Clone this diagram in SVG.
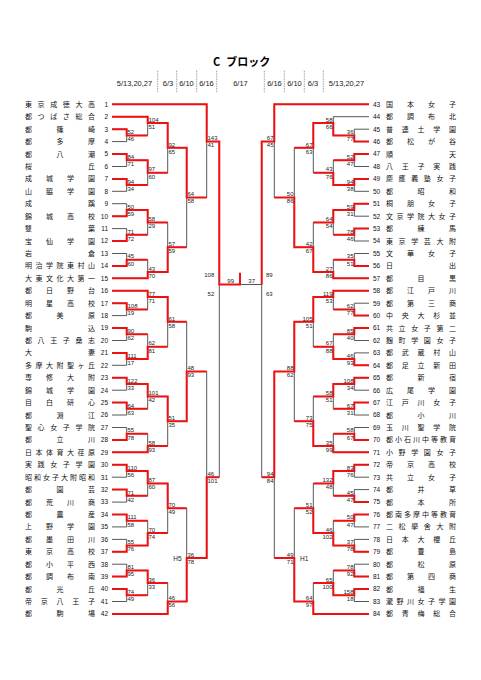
<svg xmlns="http://www.w3.org/2000/svg" xmlns:xlink="http://www.w3.org/1999/xlink" width="481" height="680" viewBox="0 0 481 680">
<style>
.nm{font-family:"Noto Sans CJK JP","Noto Sans CJK SC",sans-serif;font-size:7px;fill:#111}
.no{font-family:"Liberation Sans",Arial,sans-serif;font-size:6.5px;fill:#111}
.e{text-anchor:end}
.sc text{font-family:"Liberation Sans",Arial,sans-serif;font-size:6px;fill:#222}
.r text{text-anchor:end}
.dt{font-family:"Liberation Sans",Arial,sans-serif;font-size:7.5px;fill:#222;text-anchor:middle}
.bk{fill:none;stroke:#444;stroke-width:0.9}
.rd{fill:none;stroke:#ee1111;stroke-width:2}
.sep{stroke:#888;stroke-width:0.8;stroke-dasharray:1.5 1}
</style>
<rect width="481" height="680" fill="#fff"/>
<text x="213" y="65.5" style="font-family:'Noto Sans CJK JP',sans-serif;font-size:11px;font-weight:bold">C<tspan dx="6">ブロック</tspan></text>
<g id="header">
<text class="dt" x="134.5" y="86">5/13,20,27</text>
<text class="dt" x="168" y="86">6/3</text>
<text class="dt" x="186.5" y="86">6/10</text>
<text class="dt" x="206.5" y="86">6/16</text>
<text class="dt" x="240.5" y="86">6/17</text>
<text class="dt" x="274.5" y="86">6/16</text>
<text class="dt" x="294.5" y="86">6/10</text>
<text class="dt" x="313" y="86">6/3</text>
<text class="dt" x="346.5" y="86">5/13,20,27</text>
<path class="sep" d="M157.7 70.7V92.7M176.7 70.7V92.7M196.7 70.7V92.7M216.7 70.7V92.7M264.3 70.7V92.7M284.3 70.7V92.7M304.3 70.7V92.7M323.3 70.7V92.7"/>
</g>
<g id="connectors">
<path id="brL" class="bk" d="M112 104.3H206.7M112 116.7H147.7M112 129.2H126.7M112 141.6H126.7M112 154H126.7M112 166.5H126.7M112 178.9H126.7M112 191.3H126.7M112 203.7H126.7M112 216.2H126.7M112 228.6H126.7M112 241H126.7M112 253.5H126.7M112 265.9H126.7M112 278.3H147.7M112 290.8H147.7M112 303.2H126.7M112 315.6H126.7M112 328H126.7M112 340.5H126.7M112 352.9H126.7M112 365.3H126.7M112 377.8H126.7M112 390.2H126.7M112 402.6H126.7M112 415H126.7M112 427.5H126.7M112 439.9H126.7M112 452.3H147.7M112 464.8H126.7M112 477.2H126.7M112 489.6H126.7M112 502.1H126.7M112 514.5H126.7M112 526.9H126.7M112 539.4H126.7M112 551.8H126.7M112 564.2H126.7M112 576.6H126.7M112 589.1H126.7M112 601.5H126.7M112 613.9H167.7
M126.7 129.2V141.6M126.7 135.4H147.7M126.7 154V166.5M126.7 160.2H147.7M126.7 178.9V191.3M126.7 185.1H147.7M126.7 203.7V216.2M126.7 210H147.7M126.7 228.6V241M126.7 234.8H147.7M126.7 253.5V265.9M126.7 259.7H147.7M126.7 303.2V315.6M126.7 309.4H147.7M126.7 328V340.5M126.7 334.3H147.7M126.7 352.9V365.3M126.7 359.1H147.7M126.7 377.8V390.2M126.7 384H147.7M126.7 402.6V415M126.7 408.8H147.7M126.7 427.5V439.9M126.7 433.7H147.7M126.7 464.8V477.2M126.7 471H147.7M126.7 489.6V502.1M126.7 495.8H147.7M126.7 514.5V526.9M126.7 520.7H147.7M126.7 539.4V551.8M126.7 545.6H147.7M126.7 564.2V576.6M126.7 570.4H147.7M126.7 589.1V601.5M126.7 595.3H147.7
M147.7 116.7V135.4M147.7 122.9H167.7M147.7 160.2V185.1M147.7 172.7H167.7M147.7 210V234.8M147.7 222.4H167.7M147.7 259.7V278.3M147.7 272.1H167.7M147.7 290.8V309.4M147.7 297H167.7M147.7 334.3V359.1M147.7 346.7H167.7M147.7 384V408.8M147.7 396.4H167.7M147.7 433.7V452.3M147.7 446.1H167.7M147.7 471V495.8M147.7 483.4H167.7M147.7 520.7V545.6M147.7 533.1H167.7M147.7 570.4V595.3M147.7 582.9H167.7
M167.7 122.9V172.7M167.7 147.8H186.7M167.7 222.4V272.1M167.7 247.2H186.7M167.7 297V346.7M167.7 321.8H186.7M167.7 396.4V446.1M167.7 421.3H186.7M167.7 483.4V533.1M167.7 508.3H186.7M167.7 582.9V613.9M167.7 601.5H186.7
M186.7 147.8V247.2M186.7 197.5H206.7M186.7 321.8V421.3M186.7 371.5H206.7M186.7 508.3V601.5M186.7 558H206.7
M206.7 104.3V197.5M206.7 141.6H219.3M206.7 371.5V558M206.7 477.2H219.3M219.3 141.6V477.2M219.3 284.5H240.5"/>
<use xlink:href="#brL" href="#brL" transform="matrix(-1 0 0 1 481 0)"/>
<path class="rd" d="M112 104.3H206.7V141.6H219.3V284.5H240V272.7
M112 116.7H147.7V122.9H167.7V147.8H186.7V197.5H206.7
M112 129.2H126.7V135.4H147.7
M112 154H126.7V160.2H147.7V172.7H167.7
M112 178.9H126.7V185.1H147.7
M112 216.2H126.7V210H147.7V222.4H167.7
M112 241H126.7V234.8H147.7
M112 265.9H126.7V259.7H147.7
M112 278.3H147.7V272.1H167.7V247.2H186.7
M112 290.8H147.7V297H167.7V321.8H186.7
M112 303.2H126.7V309.4H147.7
M112 328H126.7V334.3H147.7
M112 352.9H126.7V359.1H147.7V346.7H167.7
M112 377.8H126.7V384H147.7V396.4H167.7V421.3H186.7V371.5H206.7
M112 402.6H126.7V408.8H147.7
M112 439.9H126.7V433.7H147.7
M112 452.3H147.7V446.1H167.7
M112 464.8H126.7V471H147.7V483.4H167.7V508.3H186.7
M112 489.6H126.7V495.8H147.7
M112 514.5H126.7V520.7H147.7
M112 551.8H126.7V545.6H147.7V533.1H167.7
M112 576.6H126.7V570.4H147.7V582.9H167.7
M112 589.1H126.7V595.3H147.7
M112 613.9H167.7V601.5H186.7V558H206.7V477.2H219.3"/>
<path class="rd" d="M369 104.3H274.3V141.6H261.7V284.5
M369 141.6H354.3V135.4H333.3V122.9H313.3V147.8H294.3
M369 154H354.3V160.2H333.3
M369 178.9H354.3V185.1H333.3V172.7H313.3
M369 203.7H354.3V210H333.3V222.4H313.3
M369 228.6H354.3V234.8H333.3
M369 265.9H354.3V259.7H333.3
M369 278.3H333.3V272.1H313.3V247.2H294.3V197.5H274.3
M369 290.8H333.3V297H313.3V321.8H294.3V371.5H274.3V477.2H261.7
M369 315.6H354.3V309.4H333.3
M369 328H354.3V334.3H333.3
M369 365.3H354.3V359.1H333.3V346.7H313.3
M369 377.8H354.3V384H333.3V396.4H313.3
M369 402.6H354.3V408.8H333.3
M369 439.9H354.3V433.7H333.3
M369 452.3H333.3V446.1H313.3V421.3H294.3
M369 464.8H354.3V471H333.3V483.4H313.3
M369 502.1H354.3V495.8H333.3
M369 514.5H354.3V520.7H333.3
M369 551.8H354.3V545.6H333.3V533.1H313.3V508.3H294.3
M369 576.6H354.3V570.4H333.3
M369 589.1H354.3V595.3H333.3V582.9H313.3
M369 613.9H313.3V601.5H294.3V558H274.3"/>
</g>
<g id="teams-left">
<g id="t1" transform="translate(0,104.3)"><text class="nm" x="25" y="2.5" textLength="70">東京成徳大高</text><text class="no e" x="108" y="2.3">1</text></g>
<g id="t2" transform="translate(0,116.7)"><text class="nm" x="25" y="2.5" textLength="70">都つばさ総合</text><text class="no e" x="108" y="2.3">2</text></g>
<g id="t3" transform="translate(0,129.2)"><text class="nm" x="25" y="2.5" textLength="70">都篠崎</text><text class="no e" x="108" y="2.3">3</text></g>
<g id="t4" transform="translate(0,141.6)"><text class="nm" x="25" y="2.5" textLength="70">都多摩</text><text class="no e" x="108" y="2.3">4</text></g>
<g id="t5" transform="translate(0,154)"><text class="nm" x="25" y="2.5" textLength="70">都八潮</text><text class="no e" x="108" y="2.3">5</text></g>
<g id="t6" transform="translate(0,166.5)"><text class="nm" x="25" y="2.5" textLength="70">桜丘</text><text class="no e" x="108" y="2.3">6</text></g>
<g id="t7" transform="translate(0,178.9)"><text class="nm" x="25" y="2.5" textLength="70">成城学園</text><text class="no e" x="108" y="2.3">7</text></g>
<g id="t8" transform="translate(0,191.3)"><text class="nm" x="25" y="2.5" textLength="70">山脇学園</text><text class="no e" x="108" y="2.3">8</text></g>
<g id="t9" transform="translate(0,203.7)"><text class="nm" x="25" y="2.5" textLength="70">成蹊</text><text class="no e" x="108" y="2.3">9</text></g>
<g id="t10" transform="translate(0,216.2)"><text class="nm" x="25" y="2.5" textLength="70">錦城高校</text><text class="no e" x="108" y="2.3">10</text></g>
<g id="t11" transform="translate(0,228.6)"><text class="nm" x="25" y="2.5" textLength="70">雙葉</text><text class="no e" x="108" y="2.3">11</text></g>
<g id="t12" transform="translate(0,241)"><text class="nm" x="25" y="2.5" textLength="70">宝仙学園</text><text class="no e" x="108" y="2.3">12</text></g>
<g id="t13" transform="translate(0,253.5)"><text class="nm" x="25" y="2.5" textLength="70">岩倉</text><text class="no e" x="108" y="2.3">13</text></g>
<g id="t14" transform="translate(0,265.9)"><text class="nm" x="25" y="2.5" textLength="70">明治学院東村山</text><text class="no e" x="108" y="2.3">14</text></g>
<g id="t15" transform="translate(0,278.3)"><text class="nm" x="25" y="2.5" textLength="70">大東文化大第一</text><text class="no e" x="108" y="2.3">15</text></g>
<g id="t16" transform="translate(0,290.8)"><text class="nm" x="25" y="2.5" textLength="70">都日野台</text><text class="no e" x="108" y="2.3">16</text></g>
<g id="t17" transform="translate(0,303.2)"><text class="nm" x="25" y="2.5" textLength="70">明星高校</text><text class="no e" x="108" y="2.3">17</text></g>
<g id="t18" transform="translate(0,315.6)"><text class="nm" x="25" y="2.5" textLength="70">都美原</text><text class="no e" x="108" y="2.3">18</text></g>
<g id="t19" transform="translate(0,328)"><text class="nm" x="25" y="2.5" textLength="70">駒込</text><text class="no e" x="108" y="2.3">19</text></g>
<g id="t20" transform="translate(0,340.5)"><text class="nm" x="25" y="2.5" textLength="70">都八王子桑志</text><text class="no e" x="108" y="2.3">20</text></g>
<g id="t21" transform="translate(0,352.9)"><text class="nm" x="25" y="2.5" textLength="70">大妻</text><text class="no e" x="108" y="2.3">21</text></g>
<g id="t22" transform="translate(0,365.3)"><text class="nm" x="25" y="2.5" textLength="70">多摩大附聖ヶ丘</text><text class="no e" x="108" y="2.3">22</text></g>
<g id="t23" transform="translate(0,377.8)"><text class="nm" x="25" y="2.5" textLength="70">専修大附</text><text class="no e" x="108" y="2.3">23</text></g>
<g id="t24" transform="translate(0,390.2)"><text class="nm" x="25" y="2.5" textLength="70">錦城学園</text><text class="no e" x="108" y="2.3">24</text></g>
<g id="t25" transform="translate(0,402.6)"><text class="nm" x="25" y="2.5" textLength="70">目白研心</text><text class="no e" x="108" y="2.3">25</text></g>
<g id="t26" transform="translate(0,415)"><text class="nm" x="25" y="2.5" textLength="70">都淵江</text><text class="no e" x="108" y="2.3">26</text></g>
<g id="t27" transform="translate(0,427.5)"><text class="nm" x="25" y="2.5" textLength="70">聖心女子学院</text><text class="no e" x="108" y="2.3">27</text></g>
<g id="t28" transform="translate(0,439.9)"><text class="nm" x="25" y="2.5" textLength="70">都立川</text><text class="no e" x="108" y="2.3">28</text></g>
<g id="t29" transform="translate(0,452.3)"><text class="nm" x="25" y="2.5" textLength="70">日本体育大荏原</text><text class="no e" x="108" y="2.3">29</text></g>
<g id="t30" transform="translate(0,464.8)"><text class="nm" x="25" y="2.5" textLength="70">実践女子学園</text><text class="no e" x="108" y="2.3">30</text></g>
<g id="t31" transform="translate(0,477.2)"><text class="nm" x="25" y="2.5" textLength="70">昭和女子大附昭和</text><text class="no e" x="108" y="2.3">31</text></g>
<g id="t32" transform="translate(0,489.6)"><text class="nm" x="25" y="2.5" textLength="70">都園芸</text><text class="no e" x="108" y="2.3">32</text></g>
<g id="t33" transform="translate(0,502.1)"><text class="nm" x="25" y="2.5" textLength="70">都荒川商</text><text class="no e" x="108" y="2.3">33</text></g>
<g id="t34" transform="translate(0,514.5)"><text class="nm" x="25" y="2.5" textLength="70">都農産</text><text class="no e" x="108" y="2.3">34</text></g>
<g id="t35" transform="translate(0,526.9)"><text class="nm" x="25" y="2.5" textLength="70">上野学園</text><text class="no e" x="108" y="2.3">35</text></g>
<g id="t36" transform="translate(0,539.4)"><text class="nm" x="25" y="2.5" textLength="70">都墨田川</text><text class="no e" x="108" y="2.3">36</text></g>
<g id="t37" transform="translate(0,551.8)"><text class="nm" x="25" y="2.5" textLength="70">東京高校</text><text class="no e" x="108" y="2.3">37</text></g>
<g id="t38" transform="translate(0,564.2)"><text class="nm" x="25" y="2.5" textLength="70">都小平西</text><text class="no e" x="108" y="2.3">38</text></g>
<g id="t39" transform="translate(0,576.6)"><text class="nm" x="25" y="2.5" textLength="70">都調布南</text><text class="no e" x="108" y="2.3">39</text></g>
<g id="t40" transform="translate(0,589.1)"><text class="nm" x="25" y="2.5" textLength="70">都光丘</text><text class="no e" x="108" y="2.3">40</text></g>
<g id="t41" transform="translate(0,601.5)"><text class="nm" x="25" y="2.5" textLength="70">帝京八王子</text><text class="no e" x="108" y="2.3">41</text></g>
<g id="t42" transform="translate(0,613.9)"><text class="nm" x="25" y="2.5" textLength="70">都駒場</text><text class="no e" x="108" y="2.3">42</text></g>
</g>
<g id="teams-right">
<g id="t43" transform="translate(0,104.3)"><text class="no" x="373" y="2.3">43</text><text class="nm" x="386" y="2.5" textLength="70">国本女子</text></g>
<g id="t44" transform="translate(0,116.7)"><text class="no" x="373" y="2.3">44</text><text class="nm" x="386" y="2.5" textLength="70">都調布北</text></g>
<g id="t45" transform="translate(0,129.2)"><text class="no" x="373" y="2.3">45</text><text class="nm" x="386" y="2.5" textLength="70">普連土学園</text></g>
<g id="t46" transform="translate(0,141.6)"><text class="no" x="373" y="2.3">46</text><text class="nm" x="386" y="2.5" textLength="70">都松が谷</text></g>
<g id="t47" transform="translate(0,154)"><text class="no" x="373" y="2.3">47</text><text class="nm" x="386" y="2.5" textLength="70">順天</text></g>
<g id="t48" transform="translate(0,166.5)"><text class="no" x="373" y="2.3">48</text><text class="nm" x="386" y="2.5" textLength="70">八王子実践</text></g>
<g id="t49" transform="translate(0,178.9)"><text class="no" x="373" y="2.3">49</text><text class="nm" x="386" y="2.5" textLength="70">慶應義塾女子</text></g>
<g id="t50" transform="translate(0,191.3)"><text class="no" x="373" y="2.3">50</text><text class="nm" x="386" y="2.5" textLength="70">都昭和</text></g>
<g id="t51" transform="translate(0,203.7)"><text class="no" x="373" y="2.3">51</text><text class="nm" x="386" y="2.5" textLength="70">桐朋女子</text></g>
<g id="t52" transform="translate(0,216.2)"><text class="no" x="373" y="2.3">52</text><text class="nm" x="386" y="2.5" textLength="70">文京学院大女子</text></g>
<g id="t53" transform="translate(0,228.6)"><text class="no" x="373" y="2.3">53</text><text class="nm" x="386" y="2.5" textLength="70">都練馬</text></g>
<g id="t54" transform="translate(0,241)"><text class="no" x="373" y="2.3">54</text><text class="nm" x="386" y="2.5" textLength="70">東京学芸大附</text></g>
<g id="t55" transform="translate(0,253.5)"><text class="no" x="373" y="2.3">55</text><text class="nm" x="386" y="2.5" textLength="70">文華女子</text></g>
<g id="t56" transform="translate(0,265.9)"><text class="no" x="373" y="2.3">56</text><text class="nm" x="386" y="2.5" textLength="70">日出</text></g>
<g id="t57" transform="translate(0,278.3)"><text class="no" x="373" y="2.3">57</text><text class="nm" x="386" y="2.5" textLength="70">都目黒</text></g>
<g id="t58" transform="translate(0,290.8)"><text class="no" x="373" y="2.3">58</text><text class="nm" x="386" y="2.5" textLength="70">都江戸川</text></g>
<g id="t59" transform="translate(0,303.2)"><text class="no" x="373" y="2.3">59</text><text class="nm" x="386" y="2.5" textLength="70">都第三商</text></g>
<g id="t60" transform="translate(0,315.6)"><text class="no" x="373" y="2.3">60</text><text class="nm" x="386" y="2.5" textLength="70">中央大杉並</text></g>
<g id="t61" transform="translate(0,328)"><text class="no" x="373" y="2.3">61</text><text class="nm" x="386" y="2.5" textLength="70">共立女子第二</text></g>
<g id="t62" transform="translate(0,340.5)"><text class="no" x="373" y="2.3">62</text><text class="nm" x="386" y="2.5" textLength="70">麹町学園女子</text></g>
<g id="t63" transform="translate(0,352.9)"><text class="no" x="373" y="2.3">63</text><text class="nm" x="386" y="2.5" textLength="70">都武蔵村山</text></g>
<g id="t64" transform="translate(0,365.3)"><text class="no" x="373" y="2.3">64</text><text class="nm" x="386" y="2.5" textLength="70">都足立新田</text></g>
<g id="t65" transform="translate(0,377.8)"><text class="no" x="373" y="2.3">65</text><text class="nm" x="386" y="2.5" textLength="70">都新宿</text></g>
<g id="t66" transform="translate(0,390.2)"><text class="no" x="373" y="2.3">66</text><text class="nm" x="386" y="2.5" textLength="70">広尾学園</text></g>
<g id="t67" transform="translate(0,402.6)"><text class="no" x="373" y="2.3">67</text><text class="nm" x="386" y="2.5" textLength="70">江戸川女子</text></g>
<g id="t68" transform="translate(0,415)"><text class="no" x="373" y="2.3">68</text><text class="nm" x="386" y="2.5" textLength="70">都小川</text></g>
<g id="t69" transform="translate(0,427.5)"><text class="no" x="373" y="2.3">69</text><text class="nm" x="386" y="2.5" textLength="70">玉川聖学院</text></g>
<g id="t70" transform="translate(0,439.9)"><text class="no" x="373" y="2.3">70</text><text class="nm" x="386" y="2.5" textLength="70">都小石川中等教育</text></g>
<g id="t71" transform="translate(0,452.3)"><text class="no" x="373" y="2.3">71</text><text class="nm" x="386" y="2.5" textLength="70">小野学園女子</text></g>
<g id="t72" transform="translate(0,464.8)"><text class="no" x="373" y="2.3">72</text><text class="nm" x="386" y="2.5" textLength="70">帝京高校</text></g>
<g id="t73" transform="translate(0,477.2)"><text class="no" x="373" y="2.3">73</text><text class="nm" x="386" y="2.5" textLength="70">共立女子</text></g>
<g id="t74" transform="translate(0,489.6)"><text class="no" x="373" y="2.3">74</text><text class="nm" x="386" y="2.5" textLength="70">都井草</text></g>
<g id="t75" transform="translate(0,502.1)"><text class="no" x="373" y="2.3">75</text><text class="nm" x="386" y="2.5" textLength="70">都本所</text></g>
<g id="t76" transform="translate(0,514.5)"><text class="no" x="373" y="2.3">76</text><text class="nm" x="386" y="2.5" textLength="70">都南多摩中等教育</text></g>
<g id="t77" transform="translate(0,526.9)"><text class="no" x="373" y="2.3">77</text><text class="nm" x="386" y="2.5" textLength="70">二松學舍大附</text></g>
<g id="t78" transform="translate(0,539.4)"><text class="no" x="373" y="2.3">78</text><text class="nm" x="386" y="2.5" textLength="70">日本大櫻丘</text></g>
<g id="t79" transform="translate(0,551.8)"><text class="no" x="373" y="2.3">79</text><text class="nm" x="386" y="2.5" textLength="70">都豊島</text></g>
<g id="t80" transform="translate(0,564.2)"><text class="no" x="373" y="2.3">80</text><text class="nm" x="386" y="2.5" textLength="70">都松原</text></g>
<g id="t81" transform="translate(0,576.6)"><text class="no" x="373" y="2.3">81</text><text class="nm" x="386" y="2.5" textLength="70">都第四商</text></g>
<g id="t82" transform="translate(0,589.1)"><text class="no" x="373" y="2.3">82</text><text class="nm" x="386" y="2.5" textLength="70">都福生</text></g>
<g id="t83" transform="translate(0,601.5)"><text class="no" x="373" y="2.3">83</text><text class="nm" x="386" y="2.5" textLength="70">瀧野川女子学園</text></g>
<g id="t84" transform="translate(0,613.9)"><text class="no" x="373" y="2.3">84</text><text class="nm" x="386" y="2.5" textLength="70">都青梅総合</text></g>
</g>
<g id="scores-left" class="sc">
<g transform="translate(127.5,135.4)"><text y="-1.3">52</text><text y="5.9">46</text></g>
<g transform="translate(127.5,160.2)"><text y="-1.3">84</text><text y="5.9">71</text></g>
<g transform="translate(127.5,185.1)"><text y="-1.3">94</text><text y="5.9">34</text></g>
<g transform="translate(127.5,210)"><text y="-1.3">50</text><text y="5.9">59</text></g>
<g transform="translate(127.5,234.8)"><text y="-1.3">71</text><text y="5.9">72</text></g>
<g transform="translate(127.5,259.7)"><text y="-1.3">45</text><text y="5.9">60</text></g>
<g transform="translate(127.5,309.4)"><text y="-1.3">108</text><text y="5.9">19</text></g>
<g transform="translate(127.5,334.3)"><text y="-1.3">90</text><text y="5.9">62</text></g>
<g transform="translate(127.5,359.1)"><text y="-1.3">111</text><text y="5.9">17</text></g>
<g transform="translate(127.5,384)"><text y="-1.3">122</text><text y="5.9">33</text></g>
<g transform="translate(127.5,408.8)"><text y="-1.3">64</text><text y="5.9">63</text></g>
<g transform="translate(127.5,433.7)"><text y="-1.3">55</text><text y="5.9">78</text></g>
<g transform="translate(127.5,471)"><text y="-1.3">110</text><text y="5.9">56</text></g>
<g transform="translate(127.5,495.8)"><text y="-1.3">71</text><text y="5.9">42</text></g>
<g transform="translate(127.5,520.7)"><text y="-1.3">111</text><text y="5.9">58</text></g>
<g transform="translate(127.5,545.6)"><text y="-1.3">55</text><text y="5.9">76</text></g>
<g transform="translate(127.5,570.4)"><text y="-1.3">81</text><text y="5.9">95</text></g>
<g transform="translate(127.5,595.3)"><text y="-1.3">74</text><text y="5.9">49</text></g>
<g transform="translate(148.5,122.9)"><text y="-1.3">104</text><text y="5.9">51</text></g>
<g transform="translate(148.5,172.7)"><text y="-1.3">97</text><text y="5.9">60</text></g>
<g transform="translate(148.5,222.4)"><text y="-1.3">58</text><text y="5.9">29</text></g>
<g transform="translate(148.5,272.1)"><text y="-1.3">43</text><text y="5.9">70</text></g>
<g transform="translate(148.5,297)"><text y="-1.3">77</text><text y="5.9">71</text></g>
<g transform="translate(148.5,346.7)"><text y="-1.3">62</text><text y="5.9">81</text></g>
<g transform="translate(148.5,396.4)"><text y="-1.3">101</text><text y="5.9">42</text></g>
<g transform="translate(148.5,446.1)"><text y="-1.3">58</text><text y="5.9">93</text></g>
<g transform="translate(148.5,483.4)"><text y="-1.3">87</text><text y="5.9">60</text></g>
<g transform="translate(148.5,533.1)"><text y="-1.3">70</text><text y="5.9">74</text></g>
<g transform="translate(148.5,582.9)"><text y="-1.3">36</text><text y="5.9">33</text></g>
<g transform="translate(168.5,147.8)"><text y="-1.3">92</text><text y="5.9">65</text></g>
<g transform="translate(168.5,247.2)"><text y="-1.3">57</text><text y="5.9">59</text></g>
<g transform="translate(168.5,321.8)"><text y="-1.3">61</text><text y="5.9">58</text></g>
<g transform="translate(168.5,421.3)"><text y="-1.3">51</text><text y="5.9">35</text></g>
<g transform="translate(168.5,508.3)"><text y="-1.3">70</text><text y="5.9">49</text></g>
<g transform="translate(168.5,601.5)"><text y="-1.3">46</text><text y="5.9">56</text></g>
<g transform="translate(187.5,197.5)"><text y="-1.3">64</text><text y="5.9">58</text></g>
<g transform="translate(187.5,371.5)"><text y="-1.3">48</text><text y="5.9">93</text></g>
<g transform="translate(187.5,558)"><text y="-1.3">36</text><text y="5.9">78</text></g>
<g transform="translate(207.5,141.6)"><text y="-1.3">143</text><text y="5.9">41</text></g>
<g transform="translate(207.5,477.2)"><text y="-1.3">46</text><text y="5.9">101</text></g>
</g>
<g id="scores-right" class="sc r">
<g transform="translate(353.5,135.4)"><text y="-1.3">36</text><text y="5.9">77</text></g>
<g transform="translate(353.5,160.2)"><text y="-1.3">52</text><text y="5.9">47</text></g>
<g transform="translate(353.5,185.1)"><text y="-1.3">94</text><text y="5.9">38</text></g>
<g transform="translate(353.5,210)"><text y="-1.3">59</text><text y="5.9">31</text></g>
<g transform="translate(353.5,234.8)"><text y="-1.3">78</text><text y="5.9">46</text></g>
<g transform="translate(353.5,259.7)"><text y="-1.3">35</text><text y="5.9">51</text></g>
<g transform="translate(353.5,309.4)"><text y="-1.3">62</text><text y="5.9">77</text></g>
<g transform="translate(353.5,334.3)"><text y="-1.3">85</text><text y="5.9">40</text></g>
<g transform="translate(353.5,359.1)"><text y="-1.3">46</text><text y="5.9">93</text></g>
<g transform="translate(353.5,384)"><text y="-1.3">108</text><text y="5.9">34</text></g>
<g transform="translate(353.5,408.8)"><text y="-1.3">67</text><text y="5.9">31</text></g>
<g transform="translate(353.5,433.7)"><text y="-1.3">58</text><text y="5.9">67</text></g>
<g transform="translate(353.5,471)"><text y="-1.3">83</text><text y="5.9">76</text></g>
<g transform="translate(353.5,495.8)"><text y="-1.3">45</text><text y="5.9">47</text></g>
<g transform="translate(353.5,520.7)"><text y="-1.3">50</text><text y="5.9">47</text></g>
<g transform="translate(353.5,545.6)"><text y="-1.3">37</text><text y="5.9">78</text></g>
<g transform="translate(353.5,570.4)"><text y="-1.3">78</text><text y="5.9">92</text></g>
<g transform="translate(353.5,595.3)"><text y="-1.3">158</text><text y="5.9">18</text></g>
<g transform="translate(332.5,122.9)"><text y="-1.3">58</text><text y="5.9">66</text></g>
<g transform="translate(332.5,172.7)"><text y="-1.3">43</text><text y="5.9">76</text></g>
<g transform="translate(332.5,222.4)"><text y="-1.3">64</text><text y="5.9">54</text></g>
<g transform="translate(332.5,272.1)"><text y="-1.3">27</text><text y="5.9">86</text></g>
<g transform="translate(332.5,297)"><text y="-1.3">119</text><text y="5.9">53</text></g>
<g transform="translate(332.5,346.7)"><text y="-1.3">67</text><text y="5.9">88</text></g>
<g transform="translate(332.5,396.4)"><text y="-1.3">58</text><text y="5.9">51</text></g>
<g transform="translate(332.5,446.1)"><text y="-1.3">35</text><text y="5.9">99</text></g>
<g transform="translate(332.5,483.4)"><text y="-1.3">132</text><text y="5.9">48</text></g>
<g transform="translate(332.5,533.1)"><text y="-1.3">46</text><text y="5.9">102</text></g>
<g transform="translate(332.5,582.9)"><text y="-1.3">65</text><text y="5.9">100</text></g>
<g transform="translate(312.5,147.8)"><text y="-1.3">67</text><text y="5.9">63</text></g>
<g transform="translate(312.5,247.2)"><text y="-1.3">42</text><text y="5.9">67</text></g>
<g transform="translate(312.5,321.8)"><text y="-1.3">105</text><text y="5.9">51</text></g>
<g transform="translate(312.5,421.3)"><text y="-1.3">73</text><text y="5.9">75</text></g>
<g transform="translate(312.5,508.3)"><text y="-1.3">51</text><text y="5.9">52</text></g>
<g transform="translate(312.5,601.5)"><text y="-1.3">64</text><text y="5.9">97</text></g>
<g transform="translate(293.5,197.5)"><text y="-1.3">50</text><text y="5.9">86</text></g>
<g transform="translate(293.5,371.5)"><text y="-1.3">88</text><text y="5.9">62</text></g>
<g transform="translate(293.5,558)"><text y="-1.3">49</text><text y="5.9">71</text></g>
<g transform="translate(273.5,141.6)"><text y="-1.3">67</text><text y="5.9">45</text></g>
<g transform="translate(273.5,477.2)"><text y="-1.3">94</text><text y="5.9">84</text></g>
</g>
<g id="finals" class="sc">
<text x="214.3" y="277.3" text-anchor="end">108</text>
<text x="214.3" y="296.3" text-anchor="end">52</text>
<text x="266" y="277.3">89</text>
<text x="266" y="296.3">63</text>
<text x="227.3" y="283">99</text>
<text x="248.3" y="283">37</text>
<text x="173.3" y="560.7" style="font-size:6.5px">H5</text>
<text x="300" y="560.7" style="font-size:6.5px">H1</text>
</g>
</svg>
